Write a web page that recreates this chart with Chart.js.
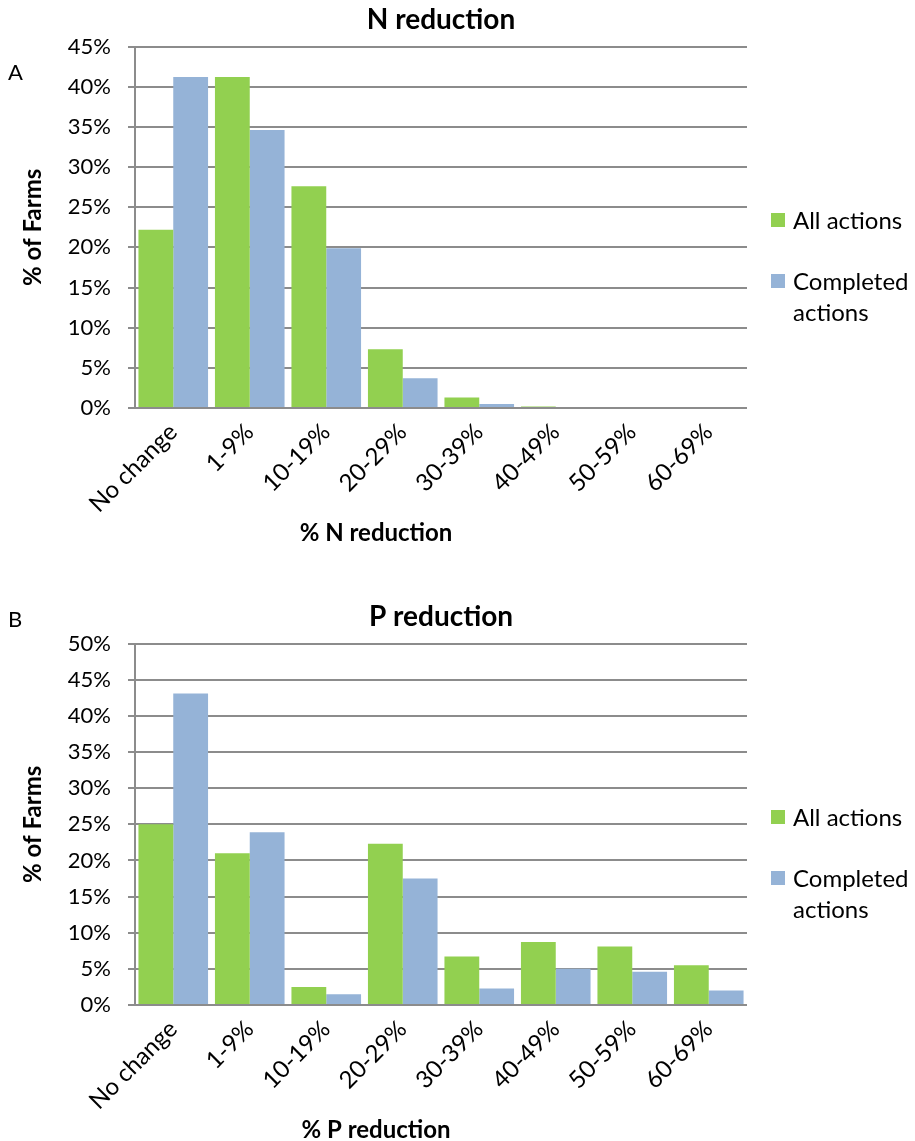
<!DOCTYPE html>
<html>
<head>
<meta charset="utf-8">
<title>N and P reduction</title>
<script src="https://cdn.jsdelivr.net/npm/chart.js@4.4.1/dist/chart.umd.min.js"></script>
<style>
    body { margin: 0; background: #fff; font-family: Lato, sans-serif; color: #000; }
    #page { position: relative; width: 915px; height: 1141px; overflow: hidden; }
    .panel { position: absolute; left: 0; width: 915px; height: 544px; }
    .letter { position: absolute; left: 8px; font-size: 22px; line-height: 24px; }
    .legend { position: absolute; left: 771px; top: 204px; font-size: 24px; line-height: 31px; }
    .legend .item { position: absolute; left: 0; display: flex; align-items: flex-start; white-space: nowrap; }
    .legend .swatch { width: 14px; height: 14px; margin-top: 9px; margin-right: 8px; flex: none; }
</style>
</head>
<body>
<div id="page">
    <div class="panel" style="top:0">
        <div style="position:absolute;left:0;top:0;width:915px;height:544px"><canvas id="nChart"></canvas></div>
        <div class="letter" style="top:60px">A</div>
        <div class="legend">
            <div class="item" style="top:0"><span class="swatch" style="background:#92D050"></span>All actions</div>
            <div class="item" style="top:61px"><span class="swatch" style="background:#95B3D7"></span>Completed<br>actions</div>
        </div>
    </div>
    <div class="panel" style="top:597px">
        <div style="position:absolute;left:0;top:0;width:915px;height:544px"><canvas id="pChart"></canvas></div>
        <div class="letter" style="top:10px">B</div>
        <div class="legend">
            <div class="item" style="top:0"><span class="swatch" style="background:#92D050"></span>All actions</div>
            <div class="item" style="top:61px"><span class="swatch" style="background:#95B3D7"></span>Completed<br>actions</div>
        </div>
    </div>
</div>
<script>
const categories = ['No change', '1-9%', '10-19%', '20-29%', '30-39%', '40-49%', '50-59%', '60-69%'];

// % of farms per reduction band
const nAllActions = [22.2, 41.2, 27.6, 7.3, 1.3, 0.2, 0, 0];
const nCompleted = [41.2, 34.6, 19.9, 3.7, 0.5, 0, 0, 0];
const pAllActions = [25.0, 21.0, 2.5, 22.3, 6.7, 8.7, 8.1, 5.5];
const pCompleted = [43.1, 23.9, 1.5, 17.5, 2.3, 5.0, 4.6, 2.0];

const nAxisMax = 45;
const pAxisMax = 50;
const tickStep = 5;

const GREEN = '#92D050';
const BLUE = '#95B3D7';
const GRID = '#8C8C8C';

Chart.defaults.font.family = 'Lato, sans-serif';
Chart.defaults.color = '#000';

// draws the x axis caption below the rotated category labels
const axisCaption = {
    id: 'axisCaption',
    afterDraw(chart, args, opts) {
        const ctx = chart.ctx;
        ctx.save();
        ctx.font = 'bold 24px Lato, sans-serif';
        ctx.fillStyle = '#000';
        ctx.textAlign = 'center';
        ctx.textBaseline = 'middle';
        ctx.fillText(opts.text, opts.x, chart.chartArea.bottom + opts.offset);
        ctx.restore();
    }
};

function makeChart(id, title, xCaption, allValues, completedValues, yMax) {
    return new Chart(document.getElementById(id), {
        type: 'bar',
        data: {
            labels: categories,
            datasets: [
                { label: 'All actions', data: allValues, backgroundColor: GREEN },
                { label: 'Completed actions', data: completedValues, backgroundColor: BLUE }
            ]
        },
        options: {
            responsive: true,
            maintainAspectRatio: false,
            animation: false,
            categoryPercentage: 0.91,
            barPercentage: 1,
            layout: { padding: { left: 16, right: 168, top: 0, bottom: 0 } },
            plugins: {
                legend: { display: false },
                tooltip: { enabled: false },
                title: {
                    display: true,
                    text: title,
                    fullSize: false,
                    font: { size: 28, weight: 'bold' },
                    color: '#000',
                    padding: { top: 3, bottom: 10 }
                },
                axisCaption: { text: xCaption, x: 376, offset: 125 }
            },
            scales: {
                x: {
                    grid: { display: false },
                    border: { display: false },
                    ticks: { font: { size: 24 }, color: '#000', maxRotation: 45, minRotation: 45, padding: 2 },
                    afterFit(scale) { scale.height = 136; }
                },
                y: {
                    min: 0,
                    max: yMax,
                    ticks: {
                        stepSize: tickStep,
                        font: { size: 22 },
                        color: '#000',
                        padding: 17,
                        callback: v => v + '%'
                    },
                    grid: { color: GRID, lineWidth: 2, tickLength: 7 },
                    border: { display: true, color: GRID, width: 2 },
                    title: {
                        display: true,
                        text: '% of Farms',
                        font: { size: 24, weight: 'bold' },
                        color: '#000',
                        padding: { top: 3, bottom: 0 }
                    },
                    afterFit(scale) { scale.width = 119; }
                }
            }
        },
        plugins: [axisCaption]
    });
}

makeChart('nChart', 'N reduction', '% N reduction', nAllActions, nCompleted, nAxisMax);
makeChart('pChart', 'P reduction', '% P reduction', pAllActions, pCompleted, pAxisMax);
</script>
</body>
</html>
